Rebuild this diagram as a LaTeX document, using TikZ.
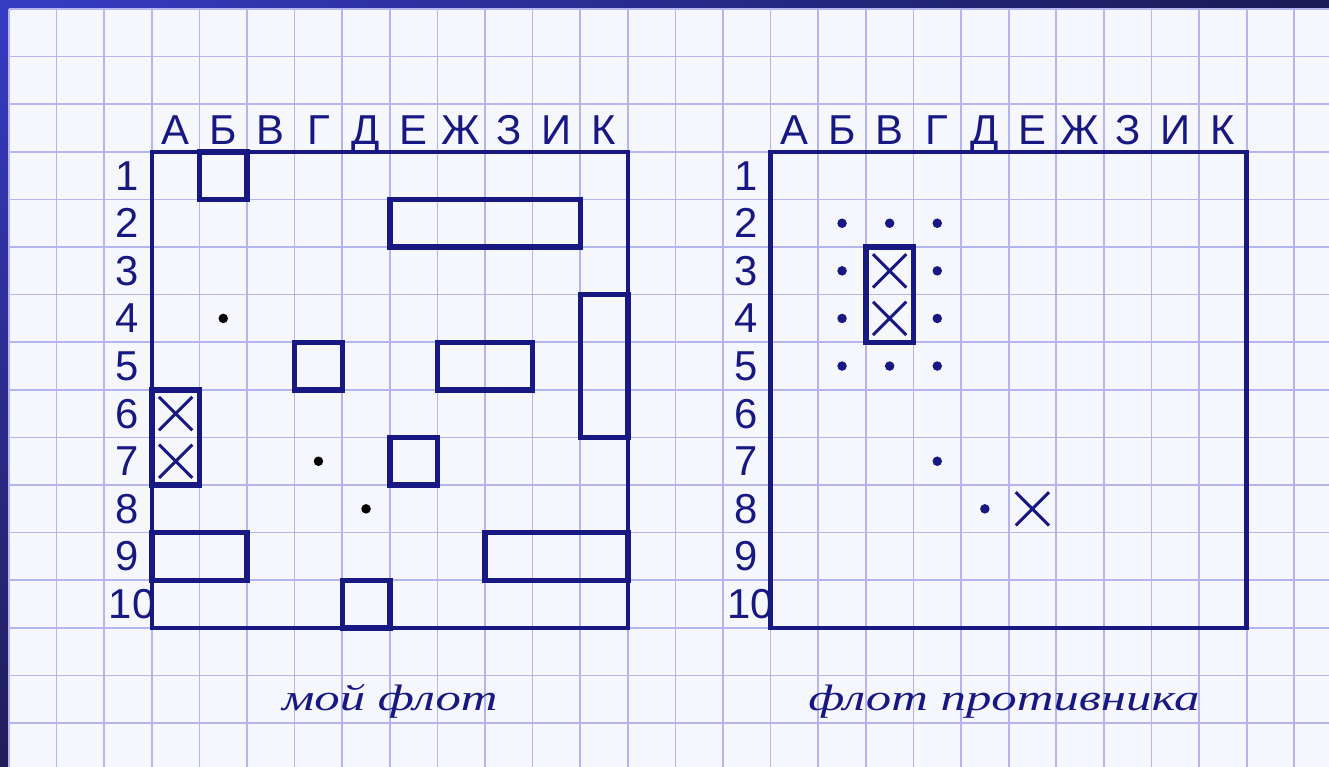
\documentclass[tikz,border=0pt]{standalone}
\usepackage{fontspec}
\usetikzlibrary{shadings}
\setmainfont{Liberation Sans}
\newfontfamily\handfont{Liberation Serif}
\definecolor{ink}{RGB}{24,24,130}
\definecolor{paper}{RGB}{246,246,253}
\definecolor{gridline}{RGB}{180,180,238}
\definecolor{frameA}{RGB}{54,60,196}
\definecolor{frameB}{RGB}{26,26,84}
\definecolor{frameC}{RGB}{34,28,88}
\definecolor{frameD}{RGB}{22,22,66}
\tikzset{
  board/.style={ink,line width=2.6pt},
  ship/.style={ink,line width=3.2pt},
  hit/.style={ink,line width=1.8pt},
  coll/.style={ink,inner sep=0pt,anchor=base,font=\fontsize{25}{25}\selectfont},
  rowl/.style={ink,inner sep=0pt,anchor=east,font=\fontsize{25}{25}\selectfont},
  caption/.style={ink,inner sep=0pt,font=\handfont\itshape\fontsize{22}{22}\selectfont}
}
\newcommand{\hitmark}[2]{\draw[hit] (#1+.15,#2+.15)--(#1+.85,#2+.85) (#1+.15,#2+.85)--(#1+.85,#2+.15);}
\newcommand{\handstretch}[1]{\scalebox{1.38}[1]{#1}}

\begin{document}
\begin{tikzpicture}[x=1cm,y=-1cm]
\path[use as bounding box] (-0.19,-0.19) rectangle (27.73,15.92);
% frame and squared paper
\shade[upper left=frameA,upper right=frameB,lower left=frameC,lower right=frameD] (-0.19,-0.19) rectangle (27.73,15.92);
\fill[paper] (0,0) rectangle (27.73,15.92);
\foreach \i in {0,...,27} \draw[gridline,line width=1pt] (\i,0) -- (\i,15.92);
\foreach \j in {0,...,15} \draw[gridline,line width=1pt] (0,\j) -- (27.73,\j);

% column letters and row numbers
\foreach \l [count=\c] in {А,Б,В,Г,Д,Е,Ж,З,И,К} {
  \node[coll] (mycol\c) at (\c+2.5,2.85) {\l};
  \node[coll] (encol\c) at (\c+15.5,2.85) {\l};
}
\foreach \r in {1,...,9} {
  \node[rowl] (myrow\r) at (2.74,\r+2.5) {\r};
  \node[rowl] (enrow\r) at (15.74,\r+2.5) {\r};
}
\node[rowl] (myrow10) at (3.08,12.5) {10};
\node[rowl] (enrow10) at (16.08,12.5) {10};

% my fleet
\draw[board] (3,3) rectangle (13,13);
\foreach \c/\r/\w/\h in {2/1/1/1,6/2/4/1,10/4/1/3,4/5/1/1,7/5/2/1,1/6/1/2,6/7/1/1,1/9/2/1,8/9/3/1,5/10/1/1}
  \draw[ship] (\c+2,\r+2) rectangle ++(\w,\h);
\hitmark{3}{8}
\hitmark{3}{9}
\foreach \c/\r in {2/4,4/7,5/8}
  \fill[black] (\c+2.5,\r+2.5) circle[radius=.1];

% enemy fleet
\draw[board] (16,3) rectangle (26,13);
\draw[ship] (18,5) rectangle ++(1,2);
\hitmark{18}{5}
\hitmark{18}{6}
\hitmark{21}{10}
\foreach \c/\r in {2/2,3/2,4/2,2/3,4/3,2/4,4/4,2/5,3/5,4/5,4/7,5/8}
  \fill[ink] (\c+15.5,\r+2.5) circle[radius=.1];

% captions
\node[caption] (mycap) at (8.0,14.55) {\handstretch{мой флот}};
\node[caption] (encap) at (20.9,14.55) {\handstretch{флот противника}};
\end{tikzpicture}
\end{document}
